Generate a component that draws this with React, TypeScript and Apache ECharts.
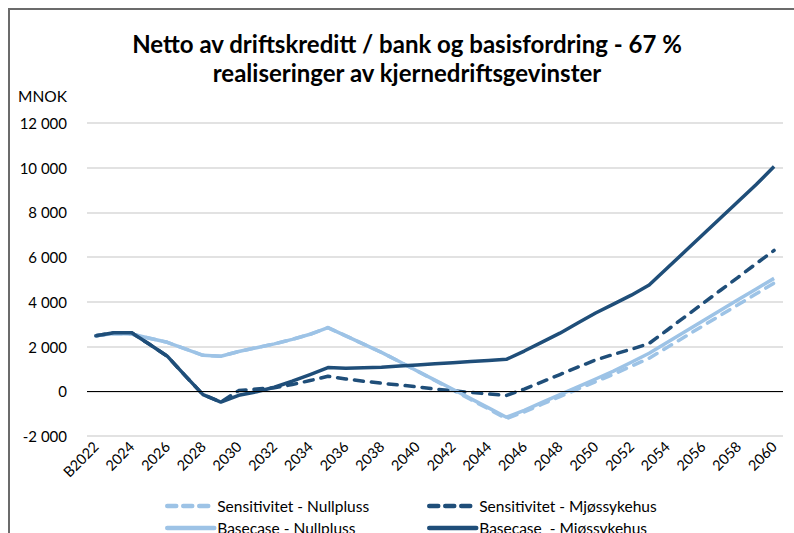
import React, { useEffect, useRef } from "react";
import * as echarts from "echarts";

const years: string[] = [
  "B2022", "2023", "2024", "2025", "2026", "2027", "2028", "2029", "2030", "2031",
  "2032", "2033", "2034", "2035", "2036", "2037", "2038", "2039", "2040", "2041",
  "2042", "2043", "2044", "2045", "2046", "2047", "2048", "2049", "2050", "2051",
  "2052", "2053", "2054", "2055", "2056", "2057", "2058", "2059", "2060",
];

const sensNullpluss: number[] = [
  2480, 2580, 2560, 2370, 2190, 1900, 1610, 1570, 1780, 1950,
  2120, 2320, 2550, 2850, 2480, 2110, 1740, 1330, 910, 480,
  60, -370, -790, -1230, -920, -580, -240, 100, 430, 760,
  1120, 1480, 1960, 2440, 2920, 3400, 3880, 4360, 4840,
];

const sensMjos: number[] = [
  2480, 2620, 2620, 2100, 1570, 700, -150, -480, 30, 100,
  160, 300, 480, 670, 550, 450, 360, 280, 200, 100,
  20, -50, -120, -190, 100, 420, 750, 1080, 1400, 1650,
  1880, 2140, 2730, 3330, 3920, 4520, 5110, 5710, 6300,
];

const baseNullpluss: number[] = [
  2480, 2580, 2560, 2370, 2190, 1900, 1610, 1570, 1780, 1950,
  2120, 2320, 2550, 2850, 2480, 2110, 1740, 1330, 910, 500,
  90, -330, -740, -1160, -850, -500, -150, 200, 550, 900,
  1300, 1700, 2180, 2660, 3140, 3620, 4100, 4580, 5050,
];

const baseMjos: number[] = [
  2480, 2620, 2620, 2100, 1570, 700, -150, -480, -180, -20,
  180, 450, 750, 1060, 1030, 1050, 1080, 1130, 1180, 1230,
  1280, 1330, 1380, 1430, 1800, 2200, 2600, 3050, 3500, 3900,
  4300, 4750, 5500, 6250, 7000, 7750, 8500, 9250, 10050,
];

const seriesNames: string[] = [
  "Sensitivitet - Nullpluss",
  "Sensitivitet - Mjøssykehus",
  "Basecase - Nullpluss",
  "Basecase  - Mjøssykehus",
];

const titleLines: string[] = [
  "Netto av driftskreditt / bank og basisfordring - 67 %",
  "realiseringer av kjernedriftsgevinster",
];

const yUnit = "MNOK";

const DARK = "#1F4E79";
const LIGHT = "#9DC3E6";
const FONT = "Lato, 'Open Sans', sans-serif";

function fmt(v: number): string {
  const s = Math.abs(v).toString().replace(/\B(?=(\d{3})+(?!\d))/g, " ");
  return (v < 0 ? "-" : "") + s;
}

export default function App() {
  const ref = useRef<HTMLDivElement>(null);

  useEffect(() => {
    if (!ref.current) return;
    const chart = echarts.init(ref.current, undefined, { renderer: "svg" });

    const dashedFlags = [true, true, false, false];
    const colors = [LIGHT, DARK, LIGHT, DARK];

    const mk = (name: string, data: number[], color: string, dashed: boolean, extra: any = {}) => ({
      name,
      type: "line",
      data,
      symbol: "none",
      showSymbol: false,
      smooth: false,
      lineStyle: {
        color,
        width: 3.5,
        type: dashed ? [9, 8] : "solid",
        cap: dashed ? "round" : "butt",
        join: "round",
      },
      itemStyle: { color },
      ...extra,
    });

    const legendPos: [number, number][] = [
      [165, 498],
      [427, 498],
      [165, 520],
      [427, 520],
    ];

    const legends = seriesNames.map((n, i) => ({
      orient: "horizontal",
      left: legendPos[i][0],
      top: legendPos[i][1],
      padding: 0,
      itemWidth: 47,
      itemHeight: 14,
      itemGap: 0,
      itemStyle: { opacity: 0 },
      lineStyle: {
        color: colors[i],
        width: 4.5,
        type: dashedFlags[i] ? [9, 7] : "solid",
        cap: "round",
      },
      textStyle: { fontFamily: FONT, fontSize: 15.5, color: "#000", padding: [0, 0, 0, -2] },
      data: [n],
    }));

    chart.setOption({
      animation: false,
      backgroundColor: "#ffffff",
      textStyle: { fontFamily: FONT },
      grid: { left: 87, right: 11, top: 123, bottom: 97, containLabel: false },
      graphic: [
        { type: "line", shape: { x1: 8, y1: 9, x2: 794, y2: 9 }, style: { stroke: "#6b6b6b", lineWidth: 2 } },
        { type: "line", shape: { x1: 9, y1: 8, x2: 9, y2: 533 }, style: { stroke: "#6b6b6b", lineWidth: 2 } },
        {
          type: "text", x: 407, y: 43,
          style: { text: titleLines[0], font: `bold 24px ${FONT}`, fill: "#000", align: "center", verticalAlign: "middle" },
        },
        {
          type: "text", x: 407, y: 72,
          style: { text: titleLines[1], font: `bold 24px ${FONT}`, fill: "#000", align: "center", verticalAlign: "middle" },
        },
        {
          type: "text", x: 18, y: 96,
          style: { text: yUnit, font: `15.5px ${FONT}`, fill: "#000", align: "left", verticalAlign: "middle" },
        },
      ],
      legend: legends,
      xAxis: {
        type: "category",
        data: years,
        boundaryGap: true,
        axisLine: { show: false, onZero: false },
        axisTick: { show: false },
        axisLabel: {
          interval: 1,
          rotate: 45,
          margin: 8,
          fontFamily: FONT,
          fontSize: 14.5,
          color: "#000",
        },
        splitLine: { show: false },
      },
      yAxis: {
        type: "value",
        min: -2000,
        max: 12000,
        interval: 2000,
        axisLine: { show: false },
        axisTick: { show: false },
        axisLabel: {
          margin: 20,
          fontFamily: FONT,
          fontSize: 15,
          color: "#000",
          formatter: (v: number) => fmt(v),
        },
        splitLine: { lineStyle: { color: "#d9d9d9", width: 1.5 } },
      },
      series: [
        mk(seriesNames[0], sensNullpluss, LIGHT, true, {
          markLine: {
            silent: true,
            symbol: "none",
            label: { show: false },
            lineStyle: { color: "#000", width: 1.2, type: "solid" },
            data: [{ yAxis: 0 }],
          },
        }),
        mk(seriesNames[1], sensMjos, DARK, true),
        mk(seriesNames[2], baseNullpluss, LIGHT, false),
        mk(seriesNames[3], baseMjos, DARK, false),
      ],
    });

    return () => chart.dispose();
  }, []);

  return (
    <div
      ref={ref}
      style={{ position: "fixed", left: 0, top: 0, width: 794, height: 533, background: "#fff" }}
    />
  );
}
